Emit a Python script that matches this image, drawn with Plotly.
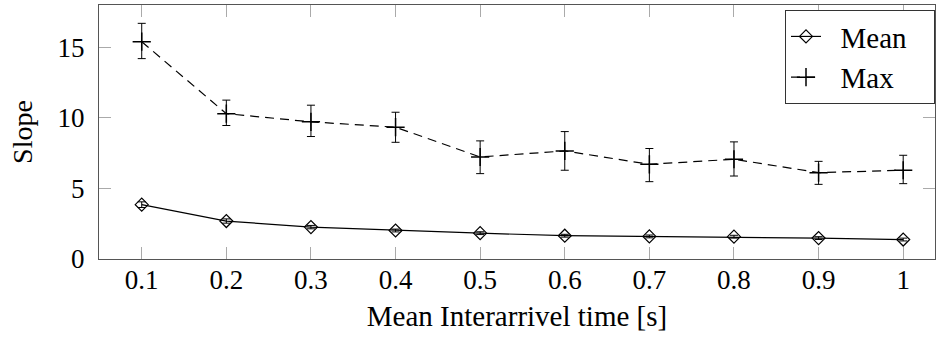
import plotly.graph_objects as go

x_vals = [0.1, 0.2, 0.3, 0.4, 0.5, 0.6, 0.7, 0.8, 0.9, 1.0]
x_ticktext = ["0.1", "0.2", "0.3", "0.4", "0.5", "0.6", "0.7", "0.8", "0.9", "1"]

mean_vals = [3.85, 2.69, 2.26, 2.02, 1.83, 1.65, 1.60, 1.58, 1.48, 1.38]
mean_err = [0.20, 0.15, 0.12, 0.10, 0.10, 0.10, 0.10, 0.10, 0.10, 0.10]

max_vals = [15.4, 10.3, 9.72, 9.34, 7.23, 7.66, 6.71, 7.07, 6.12, 6.29]
max_err_plus = [1.30, 0.96, 1.18, 1.06, 1.14, 1.37, 1.12, 1.23, 0.80, 1.06]
max_err_minus = [1.20, 0.84, 1.04, 1.07, 1.18, 1.37, 1.23, 1.19, 0.83, 0.95]

y_tickvals = [0, 5, 10, 15]

FONT = "Liberation Serif"
NB = "\u00a0"

fig = go.Figure()
fig.add_trace(go.Scatter(
    x=x_vals, y=mean_vals, name=NB * 2 + "Mean" + NB * 3, mode="lines+markers",
    line=dict(color="black", width=1.2),
    marker=dict(symbol="diamond-open", size=10, color="black", line=dict(width=1.2)),
    error_y=dict(type="data", array=mean_err, color="black", thickness=1, width=4),
))
fig.add_trace(go.Scatter(
    x=x_vals, y=max_vals, name=NB * 2 + "Max", mode="lines+markers",
    line=dict(color="black", width=1.2, dash="9px,6px"),
    marker=dict(symbol="cross-thin-open", size=13, color="black", line=dict(width=1.5, color="black")),
    error_y=dict(type="data", symmetric=False, array=max_err_plus, arrayminus=max_err_minus,
                 color="black", thickness=1, width=4),
))

fig.update_layout(
    width=936, height=340,
    margin=dict(l=99, r=1, t=5, b=81, autoexpand=False),
    paper_bgcolor="white", plot_bgcolor="white",
    font=dict(family=FONT, size=27, color="black"),
    showlegend=True,
    legend=dict(x=1.0, y=0.98, xanchor="right", yanchor="top",
                bordercolor="#333", borderwidth=1, bgcolor="white",
                font=dict(family=FONT, size=29), tracegroupgap=0),
)
fig.update_xaxes(
    range=[0.0495, 1.0376], tickvals=x_vals, ticktext=x_ticktext,
    ticks="inside", ticklen=12, tickcolor="#aaa", tickwidth=1,
    showline=True, linecolor="#555", linewidth=1.3, mirror="ticks",
    showgrid=False, zeroline=False, ticklabelstandoff=-4,
    title=dict(text="Mean Interarrivel time [s]", font=dict(family=FONT, size=29), standoff=12),
    tickfont=dict(family=FONT, size=27),
)
fig.update_yaxes(
    range=[0, 18], tickvals=y_tickvals,
    ticks="inside", ticklen=12, tickcolor="#aaa", tickwidth=1,
    showline=True, linecolor="#555", linewidth=1.3, mirror="ticks",
    showgrid=False, zeroline=False, ticklabelstandoff=8,
    title=dict(text="Slope", font=dict(family=FONT, size=28), standoff=16),
    tickfont=dict(family=FONT, size=27),
)

fig.write_html(
    "out.html",
    config={"displayModeBar": False},
    post_script="document.body.style.margin='0';document.body.style.overflow='hidden';",
)
